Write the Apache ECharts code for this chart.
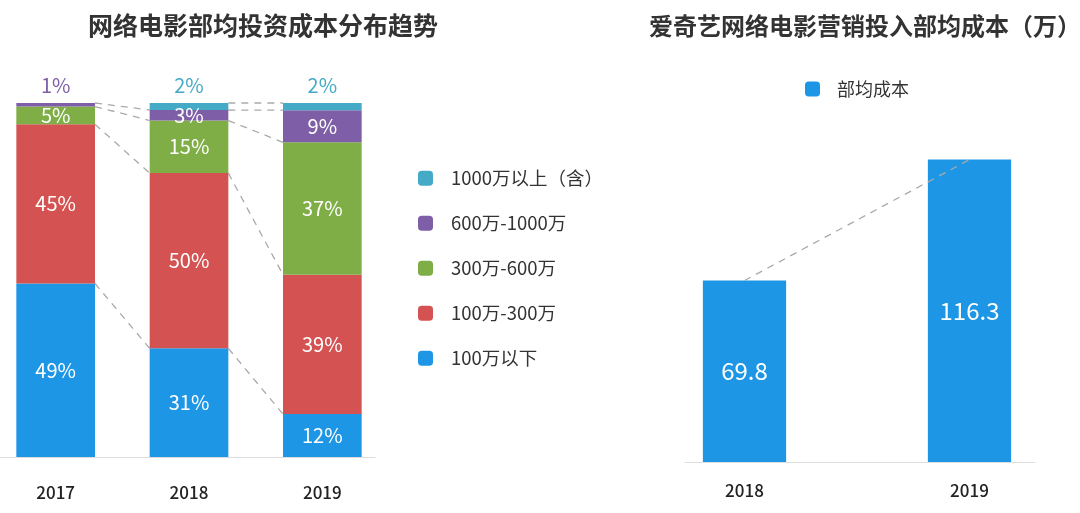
<!DOCTYPE html>
<html>
<head>
<meta charset="utf-8">
<script src="https://cdn.jsdelivr.net/npm/echarts@6/dist/echarts.min.js"></script>
<style>html,body{margin:0;padding:0;background:#fff;}#c{width:1080px;height:513px;}</style>
</head>
<body>
<div id="c"></div>
<script>
// ---- Data ----
const yearsLeft = ['2017', '2018', '2019'];
const below100 = [49, 31, 12];       // 100万以下
const r100to300 = [45, 50, 39];      // 100万-300万
const r300to600 = [5, 15, 37];       // 300万-600万
const r600to1000 = [1, 3, 9];        // 600万-1000万
const above1000 = [0, 2, 2];         // 1000万以上(含)
const seriesNames = ['100万以下', '100万-300万', '300万-600万', '600万-1000万', '1000万以上（含）'];

const yearsRight = ['2018', '2019'];
const avgCost = [69.8, 116.3];       // 部均成本(万)

// ---- Styles ----
const colors = ['#1e96e6', '#d45352', '#7fae46', '#7e5fa7', '#45aac6'];
const FONT = 'Noto Sans CJK SC';
const stacks = [below100, r100to300, r300to600, r600to1000, above1000];
const barFrac = 0.59;

// 100% stacked: share of each year's total
const totals = yearsLeft.map((_, i) => stacks.reduce((s, arr) => s + arr[i], 0));
function share(k, i) { return stacks[k][i] / totals[i] * 100; }
function cum(k, i) { let s = 0; for (let j = 0; j <= k; j++) s += share(j, i); return s; }

function makeBar(idx) {
  const vals = stacks[idx];
  return {
    name: seriesNames[idx],
    type: 'bar',
    stack: 'total',
    xAxisIndex: 0, yAxisIndex: 0,
    barWidth: (barFrac * 100) + '%',
    itemStyle: { color: colors[idx] },
    data: vals.map((v, i) => {
      let isTop = true;
      for (let k = idx + 1; k < stacks.length; k++) if (stacks[k][i] > 0) isTop = false;
      const item = { value: share(idx, i) };
      if (v === 0) {
        item.label = { show: false };
      } else if (isTop && v <= 2) {
        item.label = { show: true, position: 'top', distance: 8, color: colors[idx] };
      }
      return item;
    }),
    label: {
      show: true, position: 'inside', color: '#fff', fontSize: 20, fontFamily: FONT,
      formatter: p => stacks[idx][p.dataIndex] + '%'
    }
  };
}

// connector line data: [yearIndex, boundaryIndex]
const connData = [];
for (let i = 0; i < yearsLeft.length - 1; i++) {
  for (let k = 0; k < stacks.length; k++) {
    if (stacks[k][i] > 0 && stacks[k][i + 1] > 0) connData.push([i, k]);
  }
}

const chart = echarts.init(document.getElementById('c'));
chart.setOption({
  backgroundColor: '#fff',
  animation: false,
  textStyle: { fontFamily: FONT },
  title: [
    { text: '网络电影部均投资成本分布趋势', left: 258, top: 8, textAlign: 'center',
      textStyle: { fontSize: 25, fontWeight: 'bold', color: '#333', fontFamily: FONT } },
    { text: '爱奇艺网络电影营销投入部均成本（万）', left: 860, top: 9, textAlign: 'center',
      textStyle: { fontSize: 24, fontWeight: 'bold', color: '#333', fontFamily: FONT } }
  ],
  legend: [
    { orient: 'vertical', left: 418, top: 169, padding: 0, itemWidth: 15, itemHeight: 15, itemGap: 26.5,
      data: seriesNames.slice().reverse(),
      textStyle: { fontSize: 18.5, color: '#333', fontFamily: FONT, padding: [0, 0, 0, 13] } },
    { left: 805, top: 80, padding: 0, itemWidth: 15, itemHeight: 15,
      data: ['部均成本'],
      textStyle: { fontSize: 18, color: '#333', fontFamily: FONT, padding: [0, 0, 0, 12] } }
  ],
  grid: [
    { left: -11, width: 400, top: 103, bottom: 56, outerBoundsMode: 'none', containLabel: false },
    { left: 632, width: 450, top: 124, bottom: 51, outerBoundsMode: 'none', containLabel: false },
    { left: 0, width: 375, top: 103, bottom: 56, outerBoundsMode: 'none', containLabel: false },
    { left: 685, width: 350, top: 124, bottom: 51, outerBoundsMode: 'none', containLabel: false }
  ],
  xAxis: [
    { type: 'category', gridIndex: 0, data: yearsLeft, axisLine: { show: false }, axisTick: { show: false },
      axisLabel: { margin: 27, fontSize: 17, color: '#222', fontWeight: 500, fontFamily: FONT } },
    { type: 'category', gridIndex: 1, data: yearsRight, axisLine: { show: false }, axisTick: { show: false },
      axisLabel: { margin: 20, fontSize: 17, color: '#222', fontWeight: 500, fontFamily: FONT } },
    { type: 'category', gridIndex: 2, data: [''], axisLine: { show: true, lineStyle: { color: '#dddddd' } },
      axisTick: { show: false }, axisLabel: { show: false } },
    { type: 'category', gridIndex: 3, data: [''], axisLine: { show: true, lineStyle: { color: '#dddddd' } },
      axisTick: { show: false }, axisLabel: { show: false } }
  ],
  yAxis: [
    { type: 'value', gridIndex: 0, min: 0, max: 100, show: false },
    { type: 'value', gridIndex: 1, min: 0, max: 130, show: false },
    { type: 'value', gridIndex: 2, min: 0, max: 1, show: false },
    { type: 'value', gridIndex: 3, min: 0, max: 1, show: false }
  ],
  series: [
    makeBar(0), makeBar(1), makeBar(2), makeBar(3), makeBar(4),
    {
      type: 'custom', xAxisIndex: 0, yAxisIndex: 0, z: 1, silent: true,
      data: connData,
      encode: { x: 0, y: 1 },
      renderItem: function (params, api) {
        const i = api.value(0), k = api.value(1);
        const p1 = api.coord([i, cum(k, i)]);
        const p2 = api.coord([i + 1, cum(k, i + 1)]);
        const hw = api.size([1, 0])[0] * barFrac / 2;
        return {
          type: 'line',
          shape: { x1: p1[0] + hw, y1: p1[1], x2: p2[0] - hw, y2: p2[1] },
          style: { stroke: '#aaaaaa', lineWidth: 1.3, lineDash: [7, 6] }
        };
      }
    },
    {
      name: '部均成本', type: 'bar', xAxisIndex: 1, yAxisIndex: 1,
      barWidth: '37%', itemStyle: { color: '#1e96e6' },
      data: avgCost,
      label: { show: true, position: 'inside', color: '#fff', fontSize: 24, fontFamily: FONT }
    },
    {
      type: 'line', xAxisIndex: 1, yAxisIndex: 1, symbol: 'none', silent: true, z: 3,
      data: avgCost,
      lineStyle: { color: '#aaaaaa', width: 1.3, type: [7, 6] }
    }
  ]
});
</script>
</body>
</html>
